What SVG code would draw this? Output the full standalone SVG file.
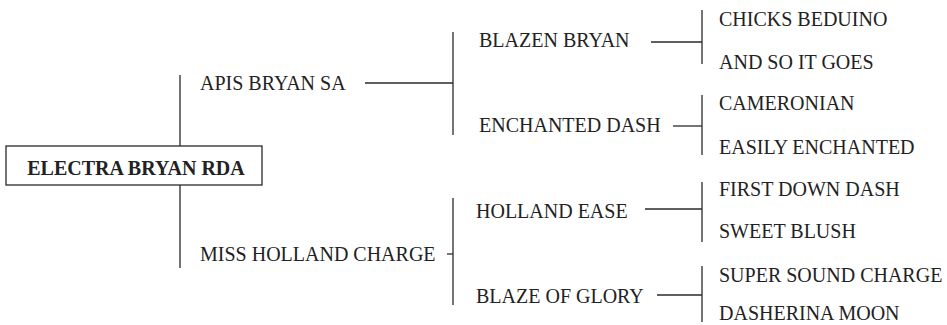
<svg xmlns="http://www.w3.org/2000/svg" width="947" height="325" viewBox="0 0 947 325">
<style>
.t{font-family:"Liberation Serif","Times New Roman",serif;font-size:20px;fill:#222}
.b{font-weight:bold;text-anchor:middle}
.c line{stroke:#2a2a2a;stroke-width:1.3}
.box{fill:#fff;stroke:#2a2a2a;stroke-width:1.3}
</style>
<rect width="947" height="325" fill="#fff"/>
<g class="c" id="connectors">
<line x1="180" y1="75" x2="180" y2="146"/>
<line x1="180" y1="185" x2="180" y2="268"/>
<line x1="365" y1="83" x2="453" y2="83"/>
<line x1="453" y1="32" x2="453" y2="135"/>
<line x1="447" y1="254" x2="453" y2="254"/>
<line x1="453" y1="198" x2="453" y2="305"/>
<line x1="651" y1="42" x2="702" y2="42"/>
<line x1="702" y1="10" x2="702" y2="64"/>
<line x1="673" y1="126" x2="702" y2="126"/>
<line x1="702" y1="95" x2="702" y2="155"/>
<line x1="645" y1="209" x2="702" y2="209"/>
<line x1="702" y1="182" x2="702" y2="242"/>
<line x1="657" y1="295" x2="702" y2="295"/>
<line x1="702" y1="266" x2="702" y2="322"/>
</g>
<g id="root"><rect class="box" x="6" y="146" width="256" height="39"/><text class="t b" x="136" y="175">ELECTRA BRYAN RDA</text></g>
<g id="n1"><text class="t" x="200" y="90">APIS BRYAN SA</text></g>
<g id="n2"><text class="t" x="200" y="261">MISS HOLLAND CHARGE</text></g>
<g id="n3"><text class="t" x="479" y="47">BLAZEN BRYAN</text></g>
<g id="n4"><text class="t" x="479" y="132">ENCHANTED DASH</text></g>
<g id="n5"><text class="t" x="476" y="218">HOLLAND EASE</text></g>
<g id="n6"><text class="t" x="476" y="303">BLAZE OF GLORY</text></g>
<g id="n7"><text class="t" x="719" y="26">CHICKS BEDUINO</text></g>
<g id="n8"><text class="t" x="719" y="69">AND SO IT GOES</text></g>
<g id="n9"><text class="t" x="719" y="110">CAMERONIAN</text></g>
<g id="n10"><text class="t" x="719" y="154">EASILY ENCHANTED</text></g>
<g id="n11"><text class="t" x="719" y="196">FIRST DOWN DASH</text></g>
<g id="n12"><text class="t" x="719" y="238">SWEET BLUSH</text></g>
<g id="n13"><text class="t" x="719" y="282">SUPER SOUND CHARGE</text></g>
<g id="n14"><text class="t" x="719" y="320">DASHERINA MOON</text></g>
</svg>
